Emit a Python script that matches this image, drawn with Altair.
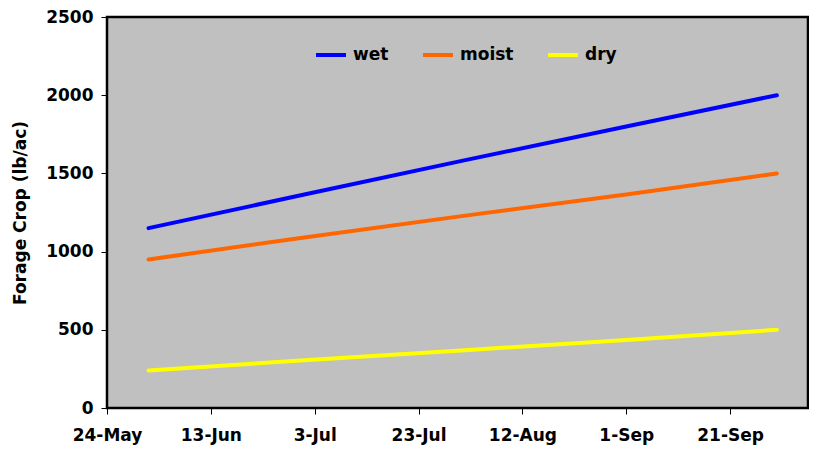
import altair as alt
import pandas as pd

# Data
dates = ["2010-06-01", "2010-07-01", "2010-08-01", "2010-09-01", "2010-09-30"]
wet = [1150, 1365, 1585, 1800, 2000]
moist = [950, 1090, 1230, 1365, 1500]
dry = [240, 305, 370, 435, 500]

series_names = ["wet", "moist", "dry"]
series_colors = ["#0000FF", "#FF6600", "#FFFF00"]

tick_dates = [(2010, 5, 24), (2010, 6, 13), (2010, 7, 3), (2010, 7, 23),
              (2010, 8, 12), (2010, 9, 1), (2010, 9, 21)]
x_min = (2010, 5, 24)
x_max = (2010, 10, 6)
y_ticks = [0, 500, 1000, 1500, 2000, 2500]

rows = []
for name, vals in zip(series_names, [wet, moist, dry]):
    for d, v in zip(dates, vals):
        rows.append({"date": d, "value": v, "series": name})
df = pd.DataFrame(rows)


def dt(t):
    return alt.DateTime(year=t[0], month=t[1], date=t[2], utc=True)


FONT = "DejaVu Sans"

chart = alt.Chart(df).mark_line(strokeWidth=4, strokeCap="round").encode(
    x=alt.X("date:T",
            scale=alt.Scale(type="utc", domain=[dt(x_min), dt(x_max)]),
            axis=alt.Axis(values=[dt(t) for t in tick_dates],
                          format="%-d-%b",
                          title=None, grid=False, domain=False,
                          tickSize=6, tickColor="black", tickWidth=1,
                          labelFont=FONT, labelFontWeight="bold", labelFontSize=17,
                          labelColor="black", labelPadding=26,
                          labelBaseline="alphabetic", labelFlush=False,
                          labelOverlap=False)),
    y=alt.Y("value:Q",
            scale=alt.Scale(domain=[0, 2500], nice=False),
            axis=alt.Axis(values=y_ticks, format="d", title="Forage Crop (lb/ac)",
                          grid=False, domain=False,
                          tickSize=6, tickColor="black", tickWidth=1,
                          labelFont=FONT, labelFontWeight="bold", labelFontSize=17,
                          labelColor="black", labelPadding=8,
                          titleFont=FONT, titleFontWeight="bold", titleFontSize=17,
                          titleColor="black", titlePadding=16)),
    color=alt.Color("series:N",
                    scale=alt.Scale(domain=series_names, range=series_colors),
                    legend=alt.Legend(title=None, orient="none", direction="horizontal",
                                      legendX=207, legendY=21,
                                      symbolType="stroke", symbolSize=900,
                                      symbolStrokeWidth=4,
                                      labelFont=FONT, labelFontWeight="bold",
                                      labelFontSize=17, labelColor="black",
                                      labelOffset=5, columnPadding=26)),
).properties(
    width=701,
    height=391,
    autosize=alt.AutoSizeParams(type="none"),
    padding={"left": 99, "top": 9, "right": 1, "bottom": 39},
    background="white",
).configure_view(
    fill="#C0C0C0",
    stroke="black",
    strokeWidth=2.5,
)

chart.save("out.html", embed_options={"renderer": "svg", "actions": False})
